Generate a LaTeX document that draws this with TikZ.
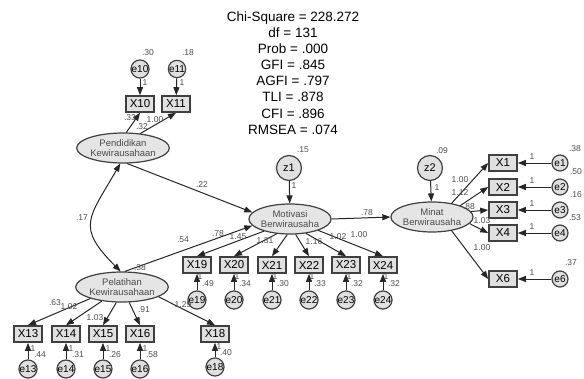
\documentclass[tikz,border=0pt]{standalone}
\usepackage{fontspec}
\setmainfont{Liberation Sans}
\usepackage{tikz}
\usetikzlibrary{arrows.meta,shapes.geometric}

\begin{document}
\begin{tikzpicture}[x=1pt,y=-1pt,
  lat/.style={ellipse,draw=black!75,line width=1.2pt,fill=black!10,minimum width=58pt,minimum height=30pt,inner sep=0pt,align=center,text=black!70,font=\fontsize{9.5}{10.5}\selectfont},
  obs/.style={rectangle,draw=black!75,line width=1.6pt,fill=black!12,minimum width=28pt,minimum height=16pt,inner sep=0pt,font=\fontsize{11.5}{12}\selectfont},
  err/.style={circle,draw=black!75,line width=1.2pt,fill=black!12,minimum size=16pt,inner sep=0pt,font=\fontsize{10}{10}\selectfont},
  dist/.style={circle,draw=black!75,line width=1.2pt,fill=black!12,minimum size=25pt,inner sep=0pt,font=\fontsize{11}{11}\selectfont},
  est/.style={inner sep=0pt,text=black!70,font=\fontsize{8.5}{9}\selectfont},
  reg/.style={draw=black!85,line width=1pt,-{Triangle[length=8pt,width=6pt]}},
  cov/.style={draw=black!85,line width=1pt,{Triangle[length=8pt,width=6pt]}-{Triangle[length=8pt,width=6pt]}}]
\useasboundingbox (0,0) rectangle (584,378);

\node[align=center,font=\fontsize{13.5}{16.1}\selectfont] (fit) at (293,73)
  {Chi-Square = 228.272\\df = 131\\Prob = .000\\GFI = .845\\AGFI = .797\\TLI = .878\\CFI = .896\\RMSEA = .074};

\node[lat] (pend) at (123,148) {Pendidikan\\Kewirausahaan};
\node[lat] (pela) at (122,287) {Pelatihan\\Kewirausahaan};
\node[lat] (moti) at (290,219) {Motivasi\\Berwirausaha};
\node[lat] (mina) at (432,217) {Minat\\Berwirausaha};
\node[dist] (z1) at (289,168) {z1};
\node[dist] (z2) at (430,168) {z2};

\node[obs] (X10) at (140,104) {X10};
\node[obs] (X11) at (176,104) {X11};
\node[obs] (X13) at (28,334) {X13};
\node[obs] (X14) at (66,334) {X14};
\node[obs] (X15) at (103,334) {X15};
\node[obs] (X16) at (140,334) {X16};
\node[obs] (X18) at (215,334) {X18};
\node[obs] (X19) at (197,265) {X19};
\node[obs] (X20) at (234,265) {X20};
\node[obs] (X21) at (272,265) {X21};
\node[obs] (X22) at (309,265) {X22};
\node[obs] (X23) at (346,265) {X23};
\node[obs] (X24) at (383,265) {X24};
\node[obs] (X1) at (503,163) {X1};
\node[obs] (X2) at (503,187) {X2};
\node[obs] (X3) at (503,210) {X3};
\node[obs] (X4) at (503,233) {X4};
\node[obs] (X6) at (503,279) {X6};

\node[err] (e10) at (140,69) {e10};
\node[err] (e11) at (177,69) {e11};
\node[err] (e13) at (28,369) {e13};
\node[err] (e14) at (66,369) {e14};
\node[err] (e15) at (103,369) {e15};
\node[err] (e16) at (140,369) {e16};
\node[err] (e18) at (215,367) {e18};
\node[err] (e19) at (197,300) {e19};
\node[err] (e20) at (234,300) {e20};
\node[err] (e21) at (272,300) {e21};
\node[err] (e22) at (309,300) {e22};
\node[err] (e23) at (346,300) {e23};
\node[err] (e24) at (383,300) {e24};
\node[err] (e1) at (560,163) {e1};
\node[err] (e2) at (560,187) {e2};
\node[err] (e3) at (560,210) {e3};
\node[err] (e4) at (560,233) {e4};
\node[err] (e6) at (560,279) {e6};

\draw[reg] (e10) -- (X10);
\draw[reg] (e11) -- (X11);
\draw[reg] (pend.78) -- (X10.south);
\draw[reg] (pend.40) -- (X11.south);
\draw[reg] (pend.-75) -- (moti.170);
\draw[cov] (pend.-100) to[out=240,in=135,looseness=1.5] (pela.95);
\draw[reg] (pela.80) -- (moti.190);
\draw[reg] (pela.200) -- (X13.north);
\draw[reg] (pela.215) -- (X14.north);
\draw[reg] (pela.250) -- (X15.north);
\draw[reg] (pela.295) -- (X16.north);
\draw[reg] (pela.-15) -- (X18.north);
\draw[reg] (e13) -- (X13);
\draw[reg] (e14) -- (X14);
\draw[reg] (e15) -- (X15);
\draw[reg] (e16) -- (X16);
\draw[reg] (e18) -- (X18);
\draw[reg] (z1) -- (moti);
\draw[reg] (moti.205) -- (X19.north);
\draw[reg] (moti.228) -- (X20.north);
\draw[reg] (moti.260) -- (X21.north);
\draw[reg] (moti.290) -- (X22.north);
\draw[reg] (moti.318) -- (X23.north);
\draw[reg] (moti.338) -- (X24.north);
\draw[reg] (e19) -- (X19);
\draw[reg] (e20) -- (X20);
\draw[reg] (e21) -- (X21);
\draw[reg] (e22) -- (X22);
\draw[reg] (e23) -- (X23);
\draw[reg] (e24) -- (X24);
\draw[reg] (moti.east) -- (mina.west);
\draw[reg] (z2) -- (mina);
\draw[reg] (mina.35) -- (X1.west);
\draw[reg] (mina.22) -- (X2.west);
\draw[reg] (mina.8) -- (X3.west);
\draw[reg] (mina.-10) -- (X4.west);
\draw[reg] (mina.-35) -- (X6.west);
\draw[reg] (e1) -- (X1);
\draw[reg] (e2) -- (X2);
\draw[reg] (e3) -- (X3);
\draw[reg] (e4) -- (X4);
\draw[reg] (e6) -- (X6);

\node[est] (v10) at (148,53) {.30};
\node[est] (v11) at (188,53) {.18};
\node[est] (o10) at (145,83) {1};
\node[est] (o11) at (182,83) {1};
\node[est] (l10) at (130,118) {.33};
\node[est] (vpend) at (142,127) {.32};
\node[est] (l11) at (155,120) {1.00};
\node[est] (lpm) at (202,185) {.22};
\node[est] (lcov) at (82,218) {.17};
\node[est] (vpela) at (140,268) {.38};
\node[est] (llm) at (183,240) {.54};
\node[est] (l13) at (55,303) {.63};
\node[est] (l14) at (69,307) {1.02};
\node[est] (l15) at (95,318) {1.03};
\node[est] (l16) at (144,310) {.91};
\node[est] (l18) at (183,305) {1.29};
\node[est] (o13) at (33,349) {1};
\node[est] (o14) at (71,349) {1};
\node[est] (o15) at (108,349) {1};
\node[est] (o16) at (145,349) {1};
\node[est] (o18) at (219,347) {1};
\node[est] (v13) at (40,355) {.44};
\node[est] (v14) at (78,355) {.31};
\node[est] (v15) at (115,355) {.26};
\node[est] (v16) at (152,355) {.58};
\node[est] (v18) at (226,353) {.40};
\node[est] (vz1) at (303,150) {.15};
\node[est] (oz1) at (294,186) {1};
\node[est] (l19) at (218,234) {.78};
\node[est] (l20) at (238,237) {1.45};
\node[est] (l21) at (265,241) {1.31};
\node[est] (l22) at (314,242) {1.16};
\node[est] (l23) at (338,237) {1.02};
\node[est] (l24) at (359,235) {1.00};
\node[est] (o19) at (200,277) {1};
\node[est] (o20) at (237,277) {1};
\node[est] (o21) at (275,277) {1};
\node[est] (o22) at (312,277) {1};
\node[est] (o23) at (349,277) {1};
\node[est] (o24) at (386,277) {1};
\node[est] (v19) at (208,284) {.49};
\node[est] (v20) at (245,284) {.34};
\node[est] (v21) at (283,284) {.30};
\node[est] (v22) at (320,284) {.33};
\node[est] (v23) at (357,284) {.32};
\node[est] (v24) at (394,284) {.32};
\node[est] (lmm) at (367,213) {.78};
\node[est] (vz2) at (442,151) {.09};
\node[est] (oz2) at (437,188) {1};
\node[est] (l1) at (460,180) {1.00};
\node[est] (l2) at (460,193) {1.12};
\node[est] (l3) at (469,207) {.88};
\node[est] (l4) at (482,221) {1.03};
\node[est] (l6) at (482,248) {1.00};
\node[est] (o1) at (532,157) {1};
\node[est] (o2) at (532,181) {1};
\node[est] (o3) at (532,204) {1};
\node[est] (o4) at (532,227) {1};
\node[est] (o6) at (532,273) {1};
\node[est] (v1) at (575,149) {.38};
\node[est] (v2) at (576,172) {.50};
\node[est] (v3) at (576,195) {.16};
\node[est] (v4) at (575,218) {.53};
\node[est] (v6) at (571,263) {.37};
\end{tikzpicture}
\end{document}
